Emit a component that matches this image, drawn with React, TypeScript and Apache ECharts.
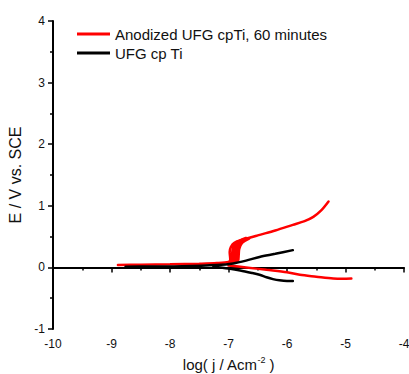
import React, { useEffect, useRef } from "react";
import * as echarts from "echarts";

const redName = "Anodized UFG cpTi, 60 minutes";
const blackName = "UFG cp Ti";

const redAnodicX = [-8.89, -8.5, -8.0, -7.5, -7.2, -7.0, -6.97, -6.98, -6.96, -6.9, -6.75, -6.5, -6.2, -5.9, -5.7, -5.55, -5.42, -5.29];
const redAnodicY = [0.04, 0.045, 0.05, 0.06, 0.07, 0.09, 0.13, 0.25, 0.33, 0.4, 0.45, 0.52, 0.6, 0.69, 0.75, 0.82, 0.92, 1.07];
const redBandX = [-6.97, -6.84, -6.83, -6.82, -6.77, -6.65];
const redBandY = [0.09, 0.11, 0.2, 0.3, 0.4, 0.47];
const redBand2X = [-6.94, -6.93, -6.92, -6.89, -6.82, -6.7];
const redBand2Y = [0.1, 0.2, 0.3, 0.37, 0.42, 0.47];
const redBand3X = [-6.9, -6.89, -6.88, -6.85, -6.76];
const redBand3Y = [0.1, 0.2, 0.3, 0.38, 0.44];
const redBand4X = [-6.87, -6.86, -6.85, -6.8];
const redBand4Y = [0.1, 0.2, 0.3, 0.4];
const redCathX = [-7.0, -6.7, -6.35, -6.0, -5.78, -5.5, -5.21, -5.05, -4.9];
const redCathY = [0.03, 0.0, -0.04, -0.08, -0.12, -0.15, -0.18, -0.185, -0.18];
const blackAnodicX = [-8.76, -8.3, -7.8, -7.2, -6.92, -6.7, -6.47, -6.2, -5.9];
const blackAnodicY = [0.01, 0.015, 0.02, 0.04, 0.065, 0.11, 0.17, 0.22, 0.28];
const blackCathX = [-7.26, -7.0, -6.8, -6.6, -6.47, -6.35, -6.24, -6.13, -6.0, -5.9];
const blackCathY = [0.01, -0.02, -0.05, -0.09, -0.12, -0.16, -0.19, -0.21, -0.22, -0.22];

const xTicks = [-10, -9, -8, -7, -6, -5, -4];
const yTicks = [-1, 0, 1, 2, 3, 4];

const zip = (xs: number[], ys: number[]) => xs.map((x, i) => [x, ys[i]]);
const FONT = "Liberation Sans, Arial, sans-serif";

export default function App() {
  const ref = useRef<HTMLDivElement>(null);
  useEffect(() => {
    document.body.style.margin = "0";
    const chart = echarts.init(ref.current!, null, { renderer: "svg" });
    const mk = (name: string, color: string, xs: number[], ys: number[], w: number) => ({
      name,
      type: "line",
      data: zip(xs, ys),
      showSymbol: false,
      smooth: 0.3,
      lineStyle: { color, width: w, cap: "round" },
      itemStyle: { color },
      z: color === "#000000" ? 3 : 2,
    });
    chart.setOption({
      animation: false,
      grid: { left: 53, right: 5, top: 21, bottom: 45, outerBoundsMode: "none", containLabel: false },
      legend: {
        data: [redName, blackName],
        orient: "vertical",
        left: 72,
        top: 21,
        itemWidth: 33,
        itemHeight: 3,
        itemGap: 3,
        icon: "rect",
        textStyle: { fontFamily: FONT, fontSize: 15, color: "#111", lineHeight: 16 },
      },
      xAxis: {
        type: "value",
        min: xTicks[0],
        max: xTicks[xTicks.length - 1],
        interval: 1,
        name: "log( j / Acm{sup|-2} )",
        nameLocation: "middle",
        nameGap: 26,
        nameTextStyle: {
          fontFamily: FONT,
          fontSize: 15,
          color: "#111",
          rich: { sup: { fontSize: 9, verticalAlign: "top", padding: [0, 0, 9, 0], fontFamily: FONT, color: "#111" } },
        },
        axisLine: { lineStyle: { color: "#000", width: 2 } },
        axisTick: { length: 5, lineStyle: { color: "#000", width: 1.5 } },
        minorTick: { show: true, splitNumber: 2, length: 3, lineStyle: { color: "#000", width: 1.5 } },
        axisLabel: { fontFamily: FONT, fontSize: 12, color: "#111", margin: 9 },
        splitLine: { show: false },
      },
      yAxis: {
        type: "value",
        min: yTicks[0],
        max: yTicks[yTicks.length - 1],
        interval: 1,
        name: "E / V vs. SCE",
        nameLocation: "middle",
        nameGap: 28,
        nameRotate: 90,
        nameTextStyle: { fontFamily: FONT, fontSize: 16, color: "#111" },
        axisLine: { lineStyle: { color: "#000", width: 2 } },
        axisTick: { length: 5, lineStyle: { color: "#000", width: 1.5 } },
        minorTick: { show: true, splitNumber: 2, length: 3, lineStyle: { color: "#000", width: 1.5 } },
        axisLabel: { fontFamily: FONT, fontSize: 12, color: "#111", margin: 8 },
        splitLine: { show: false },
      },
      series: [
        mk(redName, "#ff0000", redAnodicX, redAnodicY, 2.5),
        mk(redName, "#ff0000", redBandX, redBandY, 3),
        mk(redName, "#ff0000", redBand2X, redBand2Y, 3.5),
        mk(redName, "#ff0000", redBand3X, redBand3Y, 3.5),
        mk(redName, "#ff0000", redBand4X, redBand4Y, 3.5),
        mk(redName, "#ff0000", redCathX, redCathY, 2.5),
        mk(blackName, "#000000", blackAnodicX, blackAnodicY, 2.5),
        mk(blackName, "#000000", blackCathX, blackCathY, 2.5),
      ],
    });
    return () => chart.dispose();
  }, []);
  return <div ref={ref} style={{ width: 409, height: 374 }} />;
}
